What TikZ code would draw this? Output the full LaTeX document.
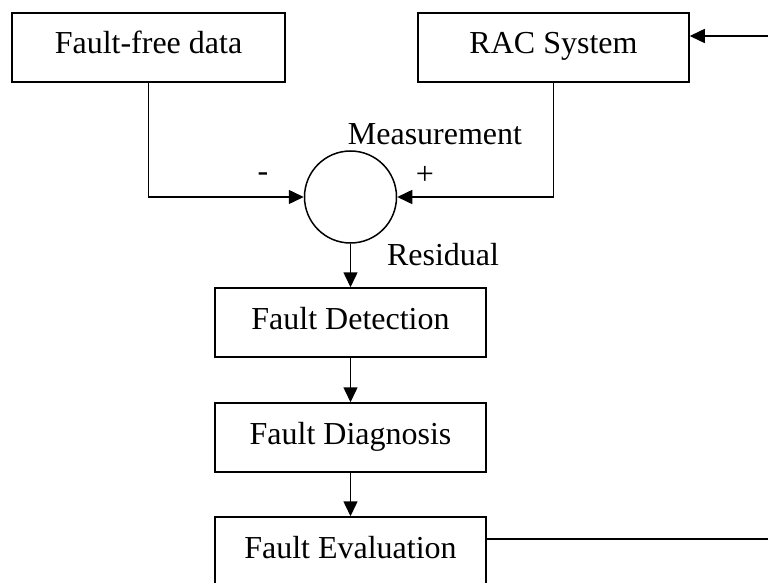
\documentclass[tikz,border=0pt]{standalone}
\usepackage{fontspec}
\setmainfont{Liberation Serif}
\usetikzlibrary{arrows.meta}
\begin{document}
\begin{tikzpicture}[x=1pt,y=-1pt,
  every node/.style={font=\fontsize{32}{38}\selectfont},
  blk/.style={draw,line width=1.5pt,inner sep=0pt,minimum height=69pt,
    text height=22pt,text depth=9pt},
  lbl/.style={inner sep=0pt,anchor=base},
  conn/.style={line width=1.5pt,-{Triangle[length=15pt,width=14pt]}},
  plain/.style={line width=1.5pt}]
\useasboundingbox (0,0) rectangle (768,583);
\node[blk,minimum width=273pt] (ffd) at (148.5,47.5) {Fault-free data};
\node[blk,minimum width=271pt] (rac) at (553.5,47.5) {RAC System};
\node[draw,circle,line width=1.5pt,minimum size=92pt,inner sep=0pt] (sum) at (350.5,197) {};
\node[blk,minimum width=271pt] (fd) at (350.5,322.5) {Fault Detection};
\node[blk,minimum width=271pt] (fdg) at (350.5,437.5) {Fault Diagnosis};
\node[blk,minimum width=271pt] (fe) at (350.5,551.5) {Fault Evaluation};
\node[lbl] (meas) at (435,145) {Measurement};
\node[lbl] (res) at (443,265) {Residual};
\node[lbl] (minus) at (263,181) {-};
\node[lbl] (plus) at (425,184) {+};
\draw[conn] (ffd.south) |- (sum.west);
\draw[conn] (rac.south) |- (sum.east);
\draw[conn] (sum.south) -- (fd.north);
\draw[conn] (fd.south) -- (fdg.north);
\draw[conn] (fdg.south) -- (fe.north);
\coordinate (fbB) at (769.5,539);
\coordinate (fbC) at (769.5,36);
\draw[conn] (fe.east |- fbB) -- (fbB) -- (fbC) -- (rac.east |- fbC);
\end{tikzpicture}
\end{document}
